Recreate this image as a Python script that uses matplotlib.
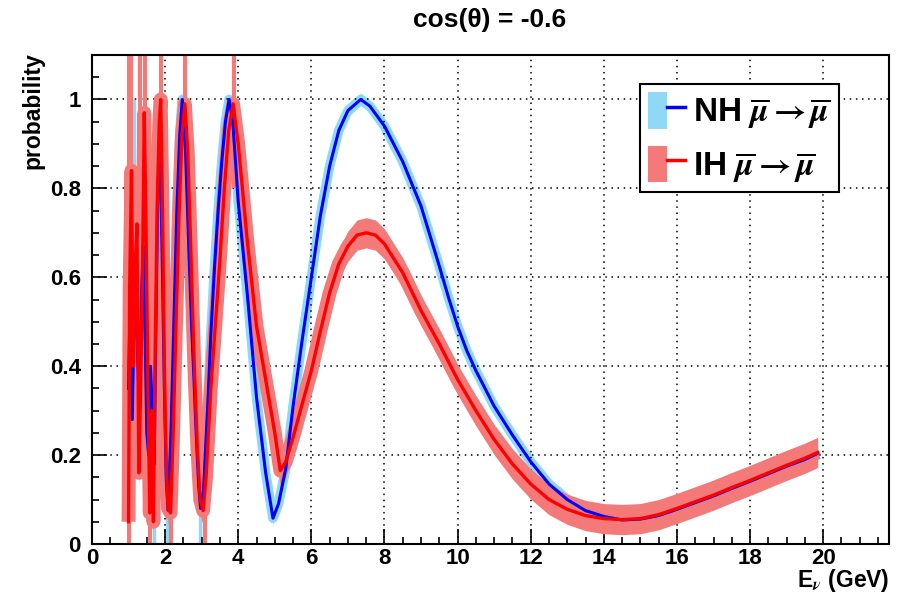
import matplotlib
matplotlib.use('Agg')
import matplotlib.pyplot as plt
from matplotlib.patches import Patch
from matplotlib.lines import Line2D
from matplotlib.legend_handler import HandlerTuple
from matplotlib.ticker import MultipleLocator, FuncFormatter

plt.rcParams['font.family'] = ['Liberation Sans', 'DejaVu Sans']
plt.rcParams['font.weight'] = 'bold'
plt.rcParams['mathtext.fontset'] = 'stix'

# NH: energia (GeV) y probabilidad
e_nh = [1.00, 1.05, 1.10, 1.15, 1.20, 1.25, 1.30, 1.35, 1.40, 1.45, 1.50, 1.55, 1.60, 1.65, 1.70, 1.75, 1.80,
        1.86, 1.92, 1.98, 2.03, 2.08, 2.16, 2.24, 2.32, 2.40, 2.47, 2.56, 2.65, 2.72, 2.79, 2.86, 2.92, 2.97,
        3.05, 3.17, 3.25, 3.35, 3.45, 3.55, 3.65, 3.75, 3.85, 4.00, 4.25, 4.50, 4.75, 4.95,
        5.10, 5.30, 5.50, 5.75, 6.00, 6.25, 6.50, 6.75, 7.00, 7.35, 7.60, 8.00, 8.50, 9.00, 9.50, 9.75,
        10.0, 10.25, 10.5, 11.0, 11.5, 12.0, 12.5, 13.0, 13.5, 14.0, 14.5, 15.0, 15.5, 16.0, 16.5, 17.0, 17.5,
        18.0, 18.5, 19.0, 19.5, 19.85]
p_nh = [0.35, 0.58, 0.28, 0.50, 0.60, 0.42, 0.30, 0.55, 0.67, 0.48, 0.25, 0.20, 0.40, 0.30, 0.18, 0.50, 0.80,
        0.89, 0.65, 0.35, 0.15, 0.076, 0.25, 0.50, 0.75, 0.92, 1.00, 0.88, 0.66, 0.50, 0.37, 0.23, 0.13, 0.08,
        0.12, 0.32, 0.47, 0.62, 0.75, 0.86, 0.95, 1.00, 0.95, 0.77, 0.56, 0.33, 0.16, 0.058,
        0.09, 0.17, 0.31, 0.46, 0.60, 0.74, 0.85, 0.93, 0.975, 1.00, 0.985, 0.94, 0.86, 0.76, 0.625, 0.555,
        0.49, 0.435, 0.39, 0.31, 0.245, 0.185, 0.135, 0.10, 0.075, 0.062, 0.054, 0.056, 0.064, 0.078, 0.093, 0.108, 0.125,
        0.141, 0.158, 0.175, 0.19, 0.204]

# IH
e_ih = [1.00, 1.03, 1.08, 1.13, 1.18, 1.23, 1.28, 1.33, 1.38, 1.43, 1.48, 1.53, 1.58, 1.63, 1.68, 1.73, 1.78,
        1.84, 1.88, 1.93, 1.98, 2.03, 2.08, 2.15, 2.22, 2.30, 2.38, 2.46, 2.54, 2.62, 2.70, 2.79, 2.88, 2.96, 3.04,
        3.12, 3.25, 3.38, 3.50, 3.62, 3.74, 3.86, 4.00, 4.25, 4.50, 4.75, 5.00, 5.15,
        5.30, 5.50, 5.75, 6.00, 6.25, 6.50, 6.75, 7.00, 7.25, 7.50, 7.75, 8.00, 8.50, 9.00, 9.50,
        10.0, 10.5, 11.0, 11.5, 12.0, 12.5, 13.0, 13.5, 14.0, 14.5, 15.0, 15.5, 16.0, 16.5, 17.0, 17.5,
        18.0, 18.5, 19.0, 19.5, 19.85]
p_ih = [0.05, 0.58, 0.84, 0.40, 0.62, 0.72, 0.16, 0.35, 0.60, 0.97, 0.70, 0.35, 0.07, 0.30, 0.05, 0.45, 0.75,
        0.95, 1.00, 0.75, 0.40, 0.18, 0.08, 0.07, 0.25, 0.50, 0.74, 0.92, 0.99, 0.88, 0.67, 0.42, 0.22, 0.10, 0.075,
        0.15, 0.35, 0.50, 0.64, 0.80, 0.93, 0.99, 0.90, 0.68, 0.49, 0.37, 0.25, 0.165,
        0.185, 0.24, 0.315, 0.39, 0.48, 0.565, 0.63, 0.67, 0.695, 0.70, 0.695, 0.675, 0.61, 0.525, 0.45,
        0.37, 0.30, 0.235, 0.18, 0.135, 0.10, 0.078, 0.064, 0.057, 0.055, 0.057, 0.066, 0.08, 0.095, 0.11, 0.127,
        0.143, 0.16, 0.177, 0.193, 0.206]

# incertidumbre (semi-ancho de la banda)
err_nh = 0.014
err_ih = 0.034

# picos de la banda en la zona de oscilacion rapida
spike_ih_x = [1.00, 1.07, 1.30, 1.45, 1.88, 2.55, 3.88, 1.60, 2.15, 3.08]
spike_ih_lo = [0.0, 0.45, 0.50, 0.30, 0.60, 0.80, 0.80, 0.0, 0.0, 0.0]
spike_ih_hi = [1.1, 1.1, 1.1, 1.1, 1.1, 1.1, 1.1, 0.30, 0.20, 0.20]
spike_nh_x = [1.02, 1.15, 1.70, 2.05, 2.95]
spike_nh_lo = [0.10, 0.35, 0.0, 0.0, 0.0]
spike_nh_hi = [0.98, 1.0, 0.20, 0.15, 0.15]

c_nh_band = '#8fd8f8'
c_ih_band = '#f47a7a'

fig = plt.figure(figsize=(9.04, 5.94), dpi=100)
ax = fig.add_axes([92/904, 50/594, 797/904, 489/594])

# bandas
ax.fill_between(e_nh, [p - err_nh for p in p_nh], [p + err_nh for p in p_nh], color=c_nh_band, lw=0, zorder=1)
ax.plot(e_nh, p_nh, color=c_nh_band, lw=7, solid_joinstyle='round', solid_capstyle='butt', zorder=1)
ax.vlines(spike_nh_x, spike_nh_lo, spike_nh_hi, color=c_nh_band, lw=2.5, zorder=1)
ax.fill_between(e_ih, [p - err_ih for p in p_ih], [p + err_ih for p in p_ih], color=c_ih_band, lw=0, zorder=2)
ax.plot(e_ih, p_ih, color=c_ih_band, lw=10, solid_joinstyle='round', solid_capstyle='butt', zorder=2)
ax.vlines(spike_ih_x, spike_ih_lo, spike_ih_hi, color=c_ih_band, lw=3, zorder=2)

# curvas
ax.plot(e_nh, p_nh, color='#0000ff', lw=2.2, zorder=3)
ax.plot(e_ih, p_ih, color='#ff0000', lw=2.4, zorder=4)

ax.set_xlim(0, 21.8)
ax.set_ylim(0, 1.1)
ax.xaxis.set_major_locator(MultipleLocator(2))
ax.xaxis.set_minor_locator(MultipleLocator(0.5))
ax.yaxis.set_major_locator(MultipleLocator(0.2))
ax.yaxis.set_minor_locator(MultipleLocator(0.05))
ax.yaxis.set_major_formatter(FuncFormatter(lambda v, pos: '%g' % round(v, 2)))
ax.tick_params(which='both', direction='in', top=False, right=False, width=1.2)
ax.tick_params(which='major', length=11, labelsize=16)
ax.tick_params(which='minor', length=5)
ax.tick_params(axis='x', pad=3)
ax.tick_params(axis='y', pad=8)
ax.grid(True, which='major', color='black', linestyle=(0, (1, 3)), linewidth=1.1)
for s in ax.spines.values():
    s.set_linewidth(1.5)

# legenda
h_nh = (Patch(facecolor=c_nh_band, edgecolor='none'), Line2D([], [], color='#0000ff', lw=2.5))
h_ih = (Patch(facecolor=c_ih_band, edgecolor='none'), Line2D([], [], color='#ff0000', lw=2.5))
leg = ax.legend([h_nh, h_ih],
                [r'NH $\overline{\mu}\rightarrow\overline{\mu}$', r'IH $\overline{\mu}\rightarrow\overline{\mu}$'],
                handler_map={tuple: HandlerTuple(ndivide=None, pad=0)},
                loc='upper left', bbox_to_anchor=(640/904, 1 - 84/594), bbox_transform=fig.transFigure,
                fontsize=24, handlelength=1.1, handleheight=1.3, handletextpad=0.25,
                labelspacing=0.45, borderpad=0.25, borderaxespad=0, fancybox=False, framealpha=1)
leg.get_frame().set_edgecolor('black')
leg.get_frame().set_linewidth(1.5)

fig.text(490/904, 1 - 20/594, 'cos(θ) = -0.6', ha='center', va='center', fontsize=19, fontweight='bold')
fig.text(33/904, 1 - 52/594, 'probability', rotation=90, ha='center', va='top', fontsize=16.5, fontweight='bold')
fig.text(889/904, 1 - 581/594, r'E$_{\nu}$ (GeV)', ha='right', va='center', fontsize=16.5, fontweight='bold')

fig.savefig('out.png', dpi=100)
